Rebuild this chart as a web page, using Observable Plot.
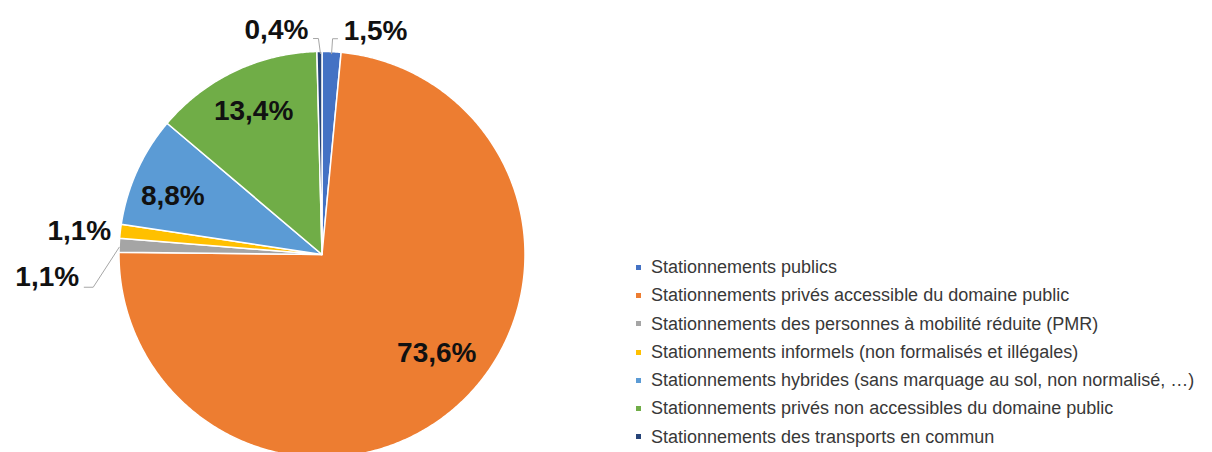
<!DOCTYPE html>
<html>
<head>
<meta charset="utf-8">
<script src="https://cdn.jsdelivr.net/npm/d3@7"></script>
<script src="https://cdn.jsdelivr.net/npm/@observablehq/plot@0.6"></script>
<style>
  html, body { margin: 0; padding: 0; background: #fff; }
  #wrap { position: relative; width: 1212px; height: 452px; overflow: hidden; }
  #legend { position: absolute; left: 636px; top: 253px; font-family: Arial, "Liberation Sans", sans-serif; font-size: 18px; color: #383838; }
  #legend .row { height: 28.3px; line-height: 28.3px; white-space: nowrap; display: flex; align-items: center; }
  #legend .sw { width: 5px; height: 5px; margin-right: 10px; flex: none; }
</style>
</head>
<body>
<div id="wrap"></div>
<script>
// ---- data ----
const categories = [
  "Stationnements publics",
  "Stationnements privés accessible du domaine public",
  "Stationnements des personnes à mobilité réduite (PMR)",
  "Stationnements informels (non formalisés et illégales)",
  "Stationnements hybrides (sans marquage au sol, non normalisé, …)",
  "Stationnements privés non accessibles du domaine public",
  "Stationnements des transports en commun"
];
const shares = [1.5, 73.6, 1.1, 1.1, 8.8, 13.4, 0.4];
const colors = ["#4472C4", "#ED7D31", "#A5A5A5", "#FFC000", "#5B9BD5", "#70AD47", "#264478"];

// ---- layout (label placement relative to each slice, in px) ----
const RPX = 203;
const labelLayout = [
  {k: 1.0, dx: 44, dy: -21},
  {k: 0.72, dx: 17, dy: -10},
  {k: 1.0, dx: -72, dy: 32},
  {k: 1.0, dx: -41, dy: 0},
  {k: 0.78, dx: -5, dy: 7},
  {k: 0.78, dx: 0, dy: -1},
  {k: 1.0, dx: -43, dy: -21}
];
const leaderLayout = [
  {i: 0, pts: [[0, 2], [1, -13], [6, -13]]},
  {i: 6, pts: [[1, 2], [-1, -13], [-6, -13]]},
  {i: 2, pts: [[0, 2], [-26, 42], [-35, 42]]}
];

const fmt = v => d3.format(".1f")(v).replace(".", ",") + "%";
const arcs = d3.pie().sort(null).value(d => d)(shares);

// slice polygons
const slicePts = [];
arcs.forEach((a, i) => {
  const n = Math.max(2, Math.ceil((a.endAngle - a.startAngle) / (2 * Math.PI) * 720));
  slicePts.push({cat: categories[i], x: 0, y: 0});
  for (let j = 0; j <= n; j++) {
    const t = a.startAngle + (a.endAngle - a.startAngle) * j / n;
    slicePts.push({cat: categories[i], x: Math.sin(t), y: Math.cos(t)});
  }
});

const mid = a => (a.startAngle + a.endAngle) / 2;
const labelData = arcs.map((a, i) => {
  const L = labelLayout[i], m = mid(a);
  return {
    text: fmt(shares[i]),
    x: L.k * Math.sin(m) + L.dx / RPX,
    y: L.k * Math.cos(m) - L.dy / RPX
  };
});

const leaderPts = [];
leaderLayout.forEach((L, g) => {
  const m = mid(arcs[L.i]);
  const ex = Math.sin(m), ey = Math.cos(m);
  L.pts.forEach(([dx, dy]) => leaderPts.push({g, x: ex + dx / RPX, y: ey - dy / RPX}));
});

const chart = Plot.plot({
  width: 1212,
  height: 452,
  margin: 0,
  x: {domain: [-1, 1], range: [118.5, 524.5], axis: null},
  y: {domain: [-1, 1], range: [457, 51], axis: null},
  color: {domain: categories, range: colors},
  marks: [
    Plot.line(slicePts, {x: "x", y: "y", z: "cat", fill: "cat", stroke: "white", strokeWidth: 1.5, curve: "linear-closed", strokeLinejoin: "round"}),
    Plot.line(leaderPts, {x: "x", y: "y", z: "g", stroke: "#a6a6a6", strokeWidth: 1}),
    Plot.text(labelData, {x: "x", y: "y", text: "text", fontSize: 28, fontWeight: "bold", fontFamily: "Arial, 'Liberation Sans', sans-serif", fill: "#111", textAnchor: "middle"})
  ]
});

const wrap = document.getElementById("wrap");
wrap.appendChild(chart);

const legend = document.createElement("div");
legend.id = "legend";
categories.forEach((c, i) => {
  const row = document.createElement("div");
  row.className = "row";
  const sw = document.createElement("span");
  sw.className = "sw";
  sw.style.background = colors[i];
  const tx = document.createElement("span");
  tx.textContent = c;
  row.appendChild(sw);
  row.appendChild(tx);
  legend.appendChild(row);
});
wrap.appendChild(legend);
</script>
</body>
</html>
